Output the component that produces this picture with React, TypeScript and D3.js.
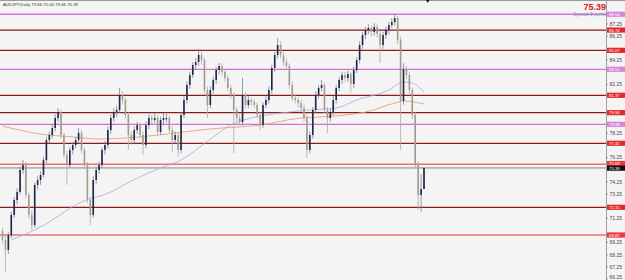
import React from 'react';
import * as d3 from 'd3';

const symbolTitle = 'AUDJPY,Daily  73.66 75.40 73.66 75.39';
const lastPrice = 75.39;
const spreadText = 'Spread: 5 points';

const opens = [70.20,69.46,68.64,69.87,71.52,72.75,73.41,75.22,75.63,73.16,71.52,70.69,73.99,74.40,74.81,76.04,77.69,78.10,78.68,79.50,79.99,78.10,76.46,75.63,76.87,77.28,77.69,78.27,76.87,75.63,72.75,71.52,74.40,75.22,75.63,76.87,77.28,78.51,79.50,79.99,80.16,81.39,80.98,79.75,78.10,77.69,78.51,78.92,78.10,77.28,78.92,79.50,79.34,79.50,78.35,79.34,79.40,79.50,78.51,77.69,78.10,76.87,79.75,80.98,82.22,83.04,83.86,84.11,84.69,84.27,81.80,80.57,81.80,82.63,83.45,83.78,83.29,82.79,81.97,81.39,80.16,79.50,79.17,81.39,80.57,80.98,80.82,80.57,79.75,78.92,80.57,80.98,81.80,83.62,84.69,85.51,84.69,84.11,83.78,82.22,81.15,80.98,80.73,80.32,79.50,76.87,78.10,80.16,81.39,81.97,82.22,80.16,79.50,79.99,80.98,81.97,82.63,83.04,82.79,83.12,82.30,83.45,84.27,85.51,86.33,86.74,86.91,86.58,86.99,86.41,85.51,86.33,86.74,87.15,87.40,87.73,85.92,80.90,83.50,83.04,81.80,79.75,75.63,73.16,73.66];
const highs = [70.45,69.80,70.10,71.80,73.00,73.70,75.50,76.04,75.90,73.40,71.90,74.20,74.70,75.10,76.30,77.95,78.40,78.95,79.80,80.32,80.20,78.30,76.80,77.10,77.55,77.95,78.68,78.50,77.10,75.90,73.00,74.70,75.50,75.90,77.10,77.60,78.80,79.80,80.30,80.50,81.97,81.70,81.20,80.00,78.40,78.80,79.20,79.10,78.40,79.20,79.80,79.75,79.90,79.70,79.60,79.90,79.85,79.70,78.80,78.40,78.30,80.00,81.30,82.50,83.30,84.10,84.40,85.18,84.95,84.50,82.10,82.10,82.90,83.70,84.03,84.00,83.50,83.00,82.20,81.60,80.40,79.80,82.79,81.60,81.30,81.20,81.10,80.80,80.00,80.80,81.30,82.10,83.90,84.95,86.08,85.80,84.95,84.40,84.00,82.50,81.40,81.20,81.00,80.60,79.80,78.40,80.40,81.70,82.20,82.63,82.40,80.40,80.30,81.30,82.20,82.90,83.30,83.30,83.40,83.30,83.70,84.50,85.80,86.60,87.00,87.20,87.10,87.30,87.20,86.70,86.60,87.00,87.40,87.70,87.98,87.90,86.20,84.00,83.80,83.30,82.00,80.00,75.90,74.90,75.40];
const lows = [69.20,66.83,68.30,69.60,71.30,72.40,73.20,74.90,72.90,71.20,70.30,70.50,73.60,74.00,74.60,75.80,77.40,77.80,78.40,79.20,77.80,76.20,73.99,75.40,76.50,77.00,77.40,76.60,75.30,72.50,70.69,71.30,74.10,74.90,75.40,76.50,77.00,78.20,79.20,79.60,79.90,80.60,79.50,76.87,77.30,77.40,78.20,77.80,76.46,77.00,78.60,79.00,79.10,78.10,78.10,79.00,79.15,78.30,76.70,77.40,76.29,76.60,79.50,80.70,81.90,82.80,83.50,83.80,83.90,81.50,79.50,80.30,81.50,82.30,83.10,83.00,82.50,81.70,81.10,76.62,79.20,78.90,78.90,80.30,80.30,80.50,80.30,79.50,78.51,78.70,80.30,80.70,81.50,83.30,84.40,84.40,83.80,83.50,81.90,80.90,80.70,80.40,80.00,79.20,76.21,76.60,77.80,79.90,81.10,81.70,79.90,78.27,79.20,79.70,80.70,81.70,82.30,82.50,82.50,81.60,82.00,83.20,84.00,85.20,86.00,86.40,86.20,86.30,86.10,84.03,85.20,86.00,86.40,86.90,87.10,85.60,76.87,80.60,82.70,81.50,79.40,75.30,71.93,71.80,73.66];
const closes = [69.46,68.64,69.87,71.52,72.75,73.41,75.22,75.63,73.16,71.52,70.69,73.99,74.40,74.81,76.04,77.69,78.10,78.68,79.50,79.99,78.10,76.46,75.63,76.87,77.28,77.69,78.27,76.87,75.63,72.75,71.52,74.40,75.22,75.63,76.87,77.28,78.51,79.50,79.99,80.16,81.39,80.98,79.75,78.10,77.69,78.51,78.92,78.10,77.28,78.92,79.50,79.34,79.50,78.35,79.34,79.50,79.50,78.51,77.69,78.10,76.87,79.75,80.98,82.22,83.04,83.86,84.11,84.69,84.27,81.80,80.57,81.80,82.63,83.45,83.78,83.29,82.79,81.97,81.39,80.16,79.50,79.17,81.39,80.57,80.98,80.82,80.57,79.75,78.92,80.57,80.98,81.80,83.62,84.69,85.51,84.69,84.11,83.78,82.22,81.15,80.98,80.73,80.32,79.50,76.87,78.10,80.16,81.39,81.97,82.22,80.16,79.50,79.99,80.98,81.97,82.63,83.04,82.79,83.12,82.30,83.45,84.27,85.51,86.33,86.74,86.91,86.58,86.99,86.41,85.51,86.33,86.74,87.15,87.40,87.73,85.92,80.90,83.50,83.04,81.80,79.75,75.63,73.16,73.66,75.39];

// moving averages, sampled at candle indices
const maSlowIdx = [0, 13, 24, 33, 50, 71, 88, 102, 108, 124, 134, 137, 144];
const maSlowVals = [78.84, 78.18, 77.94, 77.77, 78.02, 78.60, 78.92, 79.50, 79.58, 79.99, 80.73, 80.90, 80.65];
const maFastIdx = [3, 13, 27, 37, 44, 54, 61, 71, 78, 95, 105, 114, 121, 132, 137, 140, 144];
const maFastVals = [69.46, 70.53, 72.59, 73.41, 74.32, 75.39, 76.04, 77.77, 78.92, 79.91, 80.16, 80.32, 80.98, 81.80, 82.46, 82.38, 81.64];

const levelPrices = [88.04, 86.74, 85.07, 83.51, 81.37, 79.94, 78.98, 77.42, 75.69, 72.15, 69.87];
const levelKinds = ['purple', 'red', 'red', 'purple', 'red', 'red', 'purple', 'red', 'salmon', 'red', 'salmon'];

const tickValues = d3.range(66.25, 88.3, 1);

const W = 625;
const H = 280;
const axisX = 606;

const lineColor: Record<string, string> = { purple: '#cf72d4', red: '#8e1b1b', salmon: '#ee7272' };
const lineWidth: Record<string, number> = { purple: 1.3, red: 1.2, salmon: 1.6 };
const boxColor: Record<string, string> = { purple: '#d585da', red: '#e12a2a', salmon: '#e83a3a' };

export default function App() {
  const y = d3.scaleLinear().domain([66.25, 88.25]).range([279, 279 - 22 * 12.15]);
  const n = closes.length;
  const x = d3.scaleLinear().domain([0, n - 1]).range([2.5, 424]);
  const bodyW = 1.6;

  const slowLine = d3.line<number>().x((_, i) => x(maSlowIdx[i])).y((d) => y(d)).curve(d3.curveMonotoneX)(maSlowVals) || '';
  const fastLine = d3.line<number>().x((_, i) => x(maFastIdx[i])).y((d) => y(d)).curve(d3.curveMonotoneX)(maFastVals) || '';

  const boxYs = [...levelPrices.map((p) => y(p)), y(lastPrice)];
  const fmt = d3.format('.2f');
  const lastY = y(lastPrice);

  return (
    <svg width={W} height={H} style={{ position: 'absolute', left: 0, top: 0, background: '#f4f4f4' }} fontFamily="'Liberation Sans', Arial, sans-serif">
      <rect x={0} y={0} width={W} height={H} fill="#f4f4f4" />
      <line x1={0} x2={W} y1={0.5} y2={0.5} stroke="#9a9a9a" strokeWidth={1} />
      <line x1={axisX + 0.5} x2={axisX + 0.5} y1={0} y2={H} stroke="#8a8a8a" strokeWidth={0.8} />

      {levelPrices.map((p, i) => (
        <line key={'lv' + i} x1={0} x2={axisX} y1={y(p)} y2={y(p)} stroke={lineColor[levelKinds[i]]} strokeWidth={lineWidth[levelKinds[i]]} />
      ))}
      <line x1={0} x2={axisX} y1={lastY} y2={lastY} stroke="#7a7a7a" strokeWidth={0.9} />

      <path d={fastLine} fill="none" stroke="#aaaadc" strokeWidth={0.8} />
      <path d={slowLine} fill="none" stroke="#e9a07c" strokeWidth={0.9} />

      {closes.map((c, i) => {
        const o = opens[i];
        const bull = c >= o;
        const cx = x(i);
        const top = y(Math.max(o, c));
        const bot = y(Math.min(o, c));
        return (
          <g key={'c' + i}>
            <line x1={cx} x2={cx} y1={y(highs[i])} y2={y(lows[i])} stroke={bull ? '#74839a' : '#ababab'} strokeWidth={0.8} />
            <rect x={cx - bodyW / 2} y={top} width={bodyW} height={Math.max(0.8, bot - top)} fill={bull ? '#1f2742' : '#a69a8e'} />
          </g>
        );
      })}

      {tickValues.map((v, i) => {
        const ty = y(v);
        if (boxYs.some((b) => Math.abs(b - ty) < 5)) return null;
        return (
          <g key={'t' + i}>
            <line x1={axisX} x2={axisX + 2} y1={ty} y2={ty} stroke="#777" strokeWidth={0.6} />
            <text x={axisX + 3.5} y={Math.min(ty + 1.8, 279)} fontSize={5} fill="#444">{fmt(v)}</text>
          </g>
        );
      })}

      {levelPrices.map((p, i) => {
        const by = y(p);
        const nearLast = Math.abs(by - lastY) < 5;
        const cy = nearLast ? by - 0.8 : by;
        return (
          <g key={'bx' + i}>
            <rect x={axisX + 1} y={cy - 2.6} width={W - axisX - 1} height={5.2} fill={boxColor[levelKinds[i]]} />
            <text x={axisX + 3} y={cy + 1.5} fontSize={4.3} fill="#ffffff">{fmt(p)}</text>
          </g>
        );
      })}
      <rect x={axisX + 1} y={lastY - 2.4} width={W - axisX - 1} height={5.2} fill="#111" />
      <text x={axisX + 3} y={lastY + 1.9} fontSize={4.3} fill="#ffffff">{fmt(lastPrice)}</text>

      <text x={3} y={6} fontSize={4.3} fill="#333">{symbolTitle}</text>
      <text x={606} y={10} fontSize={9} fontWeight="bold" fill="#d42020" textAnchor="end">{fmt(lastPrice)}</text>
      <text x={606} y={16} fontSize={4.5} fill="#7f9cb0" textAnchor="end">{spreadText}</text>
      <path d={`M ${x(n - 1) + 2} 0 L ${x(n - 1) + 5.5} 0 L ${x(n - 1) + 3.75} 3 Z`} fill="#111" />
    </svg>
  );
}
